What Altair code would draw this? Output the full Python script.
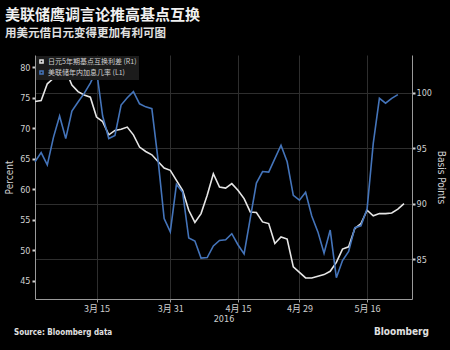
import altair as alt
import pandas as pd

# Trading days shown on the x axis (weekdays, 2016-03-01 .. 2016-05-24)
dates = pd.bdate_range("2016-03-01", "2016-05-24")

# Yen 5y basis swap (right axis, basis points) - white line
swap_bp = [99.2, 99.3, 100.8, 101.3, 102.0, 102.0, 100.7, 100.1, 99.8, 99.6,
           97.8, 97.4, 96.2, 96.6, 96.7, 96.9, 96.2, 95.1, 94.7, 94.4,
           93.8, 93.2, 93.0, 92.1, 91.2, 89.4, 88.3, 89.1, 90.75, 92.7,
           91.5, 91.4, 91.8, 91.2, 90.45, 89.25, 89.2, 88.35, 88.2, 86.4,
           87.0, 86.8, 84.3, 83.8, 83.3, 83.3, 83.45, 83.6, 83.9, 84.7,
           85.9, 86.1, 87.75, 88.2, 89.4, 88.9, 89.1, 89.1, 89.15, 89.5, 90.0]

# Fed hike probability (left axis, percent) - blue line
hike_pct = [64.5, 66.0, 64.0, 68.5, 72.0, 68.3, 72.8, 74.3, 75.7, 77.4,
            79.5, 72.0, 68.3, 68.8, 73.8, 75.0, 76.0, 74.0, 73.5, 73.2,
            64.9, 55.2, 53.0, 60.8, 59.5, 52.0, 51.5, 48.7, 48.8, 50.7,
            51.6, 51.7, 52.7, 50.9, 49.4, 55.2, 61.0, 62.9, 62.8, 65.0,
            67.2, 64.5, 59.0, 58.2, 59.5, 55.6, 53.0, 49.5, 53.3, 45.5,
            48.3, 49.8, 53.7, 54.0, 56.8, 67.5, 74.9, 74.1, 74.9, 75.5, None]

series_names = ["日元5年期基点互换利差 (R1)", "美联储年内加息几率 (L1)"]
series_colors = ["#e6e6e6", "#4474ba"]

tick_dates = ["2016-03-15", "2016-03-31", "2016-04-15", "2016-04-29", "2016-05-16"]
tick_labels = ["3月 15", "3月 31", "4月 15", "4月 29", "5月 16"]
left_ticks = [45, 50, 55, 60, 65, 70, 75, 80]
right_ticks = [85, 90, 95, 100]

title_text = "美联储鹰调言论推高基点互换"
subtitle_text = "用美元借日元变得更加有利可图"
source_text = "Source: Bloomberg data"
brand_text = "Bloomberg"

idx = list(range(len(dates)))
tick_pos = [int(dates.get_loc(pd.Timestamp(d))) for d in tick_dates]
label_expr = "".join(f"datum.value == {p} ? '{l}' : " for p, l in zip(tick_pos, tick_labels)) + "''"

df = pd.DataFrame({
    "i": idx * 2,
    "series": [series_names[0]] * len(idx) + [series_names[1]] * len(idx),
    "value": swap_bp + hike_pct,
}).dropna()

FONT = "DejaVu Sans Condensed, Liberation Sans, sans-serif"
CJK = "Noto Sans CJK SC"

x_enc = alt.X("i:Q",
              scale=alt.Scale(domain=[0, 61.3], nice=False, zero=False),
              axis=alt.Axis(values=tick_pos, labelExpr=label_expr, title="2016",
                            grid=True, gridColor="#2e2e2e", domainColor="#9a9a9a",
                            tickColor="#9a9a9a", tickSize=3, labelColor="#d0d0d0",
                            labelFont=CJK, labelFontSize=9, titleFont=FONT,
                            titleFontSize=9, titleFontWeight="normal",
                            titleColor="#d0d0d0", titlePadding=1, labelPadding=2))

color_enc = alt.Color("series:N",
                      scale=alt.Scale(domain=series_names, range=series_colors),
                      legend=alt.Legend(title=None, orient="top-left", offset=1,
                                        symbolType="square", symbolSize=10,
                                        labelColor="#cfcfcf",
                                        labelFont=CJK, labelFontSize=7,
                                        fillColor="#1c1c1c", padding=2,
                                        rowPadding=0, labelOffset=3))

white = alt.Chart(df).transform_filter(
    alt.datum.series == series_names[0]
).mark_line(strokeWidth=1.6).encode(
    x=x_enc,
    y=alt.Y("value:Q",
            scale=alt.Scale(domain=[81.4, 103.4], nice=False, zero=False),
            axis=alt.Axis(orient="right", values=right_ticks, title="Basis Points",
                          grid=True, gridColor="#2e2e2e", domainColor="#9a9a9a",
                          tickColor="#d0d0d0", tickSize=3, tickWidth=2,
                          labelColor="#d0d0d0", labelFont=FONT, labelFontSize=9,
                          titleColor="#d0d0d0", titleFont=FONT, titleFontSize=10,
                          titleFontWeight="normal", titlePadding=4, labelPadding=1)),
    color=color_enc,
)

blue = alt.Chart(df).transform_filter(
    alt.datum.series == series_names[1]
).mark_line(strokeWidth=1.6).encode(
    x=x_enc,
    y=alt.Y("value:Q",
            scale=alt.Scale(domain=[42, 82], nice=False, zero=False),
            axis=alt.Axis(orient="left", values=left_ticks, title="Percent",
                          grid=False, domainColor="#9a9a9a",
                          tickColor="#d0d0d0", tickSize=3, tickWidth=2,
                          labelColor="#d0d0d0", labelFont=FONT, labelFontSize=9,
                          titleColor="#d0d0d0", titleFont=FONT, titleFontSize=10,
                          titleFontWeight="normal", titlePadding=5, labelPadding=2)),
    color=color_enc,
)

footer = alt.Chart(pd.DataFrame({"t": [source_text]})).mark_text(
    align="left", baseline="middle", font=FONT, fontSize=8, fontWeight="bold",
    color="#e0e0e0"
).encode(text="t:N", x=alt.value(-21), y=alt.value(278))

brand = alt.Chart(pd.DataFrame({"t": [brand_text]})).mark_text(
    align="right", baseline="middle", font=FONT, fontSize=10, fontWeight="bold",
    color="#e0e0e0"
).encode(text="t:N", x=alt.value(394), y=alt.value(277))

chart = alt.layer(white, blue, footer, brand).resolve_scale(
    y="independent"
).properties(
    width=377, height=244,
    autosize=alt.AutoSizeParams(type="none"),
    padding={"left": 35, "top": 55, "right": 38, "bottom": 51},
    background="#000000",
    title=alt.Title(title_text, subtitle=subtitle_text, anchor="start", frame="group",
                    dx=-30, offset=16, font=CJK, fontSize=15, fontWeight="bold",
                    color="#f0f0f0", subtitleFont=CJK, subtitleFontSize=11.5,
                    subtitleFontWeight="bold", subtitleColor="#e0e0e0",
                    subtitlePadding=5),
).configure_view(stroke=None)

chart.save("out.html", embed_options={"renderer": "svg", "actions": False})
